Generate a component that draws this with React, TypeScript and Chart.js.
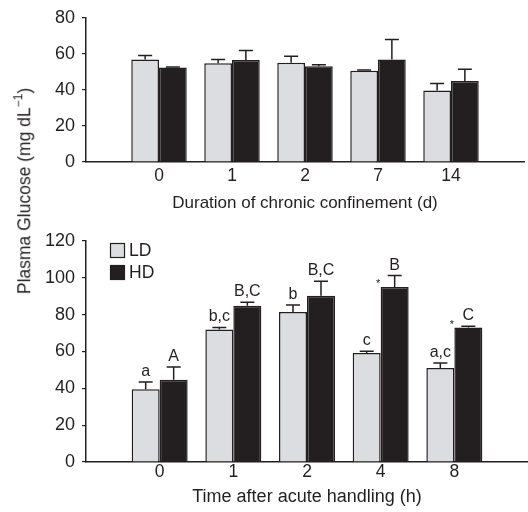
import React, { useEffect, useRef } from 'react';
import { Chart, registerables } from 'chart.js';

Chart.register(...registerables);

const FONT = '"Liberation Sans", Arial, Helvetica, sans-serif';
const INK = '#231f20';
const LD_FILL = '#dcdde0';

const seriesNames = ['LD', 'HD'];

// Top panel: chronic confinement
const topCategories = ['0', '1', '2', '7', '14'];
const topLD = [56.9, 54.8, 55.1, 50.6, 39.6];
const topLDErr = [2.2, 2.1, 3.6, 0.5, 4.0];
const topHD = [52.4, 56.6, 53.1, 56.9, 45.0];
const topHDErr = [0.3, 5.2, 0.8, 11.0, 6.5];
const topTitle = 'Duration of chronic confinement (d)';

// Bottom panel: acute handling
const bottomCategories = ['0', '1', '2', '4', '8'];
const bottomLD = [39.5, 71.9, 81.4, 59.2, 51.0];
const bottomLDErr = [3.9, 1.1, 3.8, 0.9, 2.7];
const bottomHD = [44.7, 84.9, 90.3, 95.0, 73.0];
const bottomHDErr = [6.9, 1.8, 7.8, 6.2, 0.7];
const bottomLDLetters = ['a', 'b,c', 'b', 'c', 'a,c'];
const bottomHDLetters = ['A', 'B,C', 'B,C', 'B', 'C'];
const bottomHDStars = [false, false, false, true, true];
const bottomTitle = 'Time after acute handling (h)';

const yTitle = 'Plasma Glucose (mg dL';

const pad = (arr: any[]) => [null, ...arr, null];

const errorBarPlugin = {
  id: 'errorBars',
  afterDatasetsDraw(chart: any) {
    const ctx = chart.ctx;
    const ys = chart.scales.y;
    chart.data.datasets.forEach((ds: any, di: number) => {
      const meta = chart.getDatasetMeta(di);
      meta.data.forEach((bar: any, i: number) => {
        const v = ds.data[i];
        const e = ds.errors ? ds.errors[i] : null;
        if (v == null || e == null) return;
        const x = bar.x;
        const yBar = ys.getPixelForValue(v);
        const yTop = ys.getPixelForValue(v + e);
        ctx.save();
        ctx.strokeStyle = INK;
        ctx.lineWidth = 1.5;
        ctx.beginPath();
        ctx.moveTo(x, yBar);
        ctx.lineTo(x, yTop);
        ctx.moveTo(x - 7, yTop);
        ctx.lineTo(x + 7, yTop);
        ctx.stroke();
        ctx.fillStyle = INK;
        const letter = ds.letters ? ds.letters[i] : null;
        if (letter) {
          ctx.font = `16px ${FONT}`;
          ctx.textAlign = 'center';
          ctx.textBaseline = 'middle';
          ctx.fillText(letter, x, yTop - 10.5);
        }
        if (ds.stars && ds.stars[i]) {
          ctx.font = `11px ${FONT}`;
          ctx.textAlign = 'center';
          ctx.textBaseline = 'alphabetic';
          ctx.fillText('*', x - bar.width / 2 - 2.5, yBar - 6 + 6.4);
        }
        ctx.restore();
      });
    });
  },
};

const legendPlugin = {
  id: 'boxLegend',
  afterDraw(chart: any) {
    const ctx = chart.ctx;
    const left = chart.chartArea.left + 24;
    const top = chart.chartArea.top + 2;
    chart.data.datasets.forEach((ds: any, i: number) => {
      const y = top + i * 22;
      ctx.save();
      ctx.fillStyle = ds.backgroundColor;
      ctx.fillRect(left, y, 15, 15);
      ctx.strokeStyle = INK;
      ctx.lineWidth = 1.2;
      ctx.strokeRect(left + 0.5, y + 0.5, 14, 14);
      ctx.fillStyle = INK;
      ctx.font = `17.5px ${FONT}`;
      ctx.textAlign = 'left';
      ctx.textBaseline = 'middle';
      ctx.fillText(ds.label, left + 19, y + 8);
      ctx.restore();
    });
  },
};

function makeConfig(p: any): any {
  return {
    type: 'bar',
    data: {
      labels: ['', ...p.categories, ''],
      datasets: [
        {
          label: seriesNames[0],
          data: pad(p.ld),
          errors: pad(p.ldErr),
          letters: p.ldLetters ? pad(p.ldLetters) : null,
          backgroundColor: LD_FILL,
          borderColor: INK,
          borderWidth: 1.5,
          categoryPercentage: 0.76,
          barPercentage: 1,
        },
        {
          label: seriesNames[1],
          data: pad(p.hd),
          errors: pad(p.hdErr),
          letters: p.hdLetters ? pad(p.hdLetters) : null,
          stars: p.hdStars ? pad(p.hdStars) : null,
          backgroundColor: INK,
          borderColor: INK,
          borderWidth: 1.5,
          categoryPercentage: 0.76,
          barPercentage: 1,
        },
      ],
    },
    options: {
      responsive: false,
      animation: false,
      layout: { padding: { top: p.padTop, left: 0, right: 0, bottom: 0 } },
      plugins: { legend: { display: false }, tooltip: { enabled: false } },
      scales: {
        x: {
          offset: false,
          grid: { display: false, drawTicks: false },
          border: { display: true, color: INK, width: 1.5 },
          ticks: { color: INK, font: { family: FONT, size: 17.5 }, padding: p.xTickPad, maxRotation: 0, autoSkip: false },
          title: {
            display: true,
            text: p.title,
            color: INK,
            font: { family: FONT, size: p.titleSize },
            padding: { top: 0, bottom: p.titlePadBottom },
          },
          afterFit: (s: any) => { s.height = p.xHeight; },
        },
        y: {
          min: 0,
          max: p.yMax,
          grid: { drawOnChartArea: false, drawTicks: true, tickLength: 4, color: INK, lineWidth: 1.2 },
          border: { display: true, color: INK, width: 1.5 },
          ticks: {
            stepSize: 10,
            color: INK,
            padding: 7,
            font: { family: FONT, size: 18 },
            callback: (v: any) => (v % 20 === 0 ? String(v) : ''),
          },
          afterFit: (s: any) => { s.width = 86; },
        },
      },
    },
    plugins: p.plugins,
  };
}

function ChartCanvas({ config, width, height, top }: any) {
  const ref = useRef<HTMLCanvasElement | null>(null);
  useEffect(() => {
    if (!ref.current) return;
    const chart = new Chart(ref.current, config);
    return () => chart.destroy();
  }, []);
  return (
    <canvas
      ref={ref}
      width={width}
      height={height}
      style={{ position: 'absolute', left: 0, top, width, height, display: 'block' }}
    />
  );
}

export default function App() {
  const topConfig = makeConfig({
    categories: topCategories,
    ld: topLD,
    ldErr: topLDErr,
    hd: topHD,
    hdErr: topHDErr,
    yMax: 80,
    padTop: 14,
    xHeight: 58,
    xTickPad: 4,
    title: topTitle,
    titleSize: 17,
    titlePadBottom: 6,
    plugins: [errorBarPlugin],
  });
  const bottomConfig = makeConfig({
    categories: bottomCategories,
    ld: bottomLD,
    ldErr: bottomLDErr,
    hd: bottomHD,
    hdErr: bottomHDErr,
    ldLetters: bottomLDLetters,
    hdLetters: bottomHDLetters,
    hdStars: bottomHDStars,
    yMax: 120,
    padTop: 21,
    xHeight: 50,
    xTickPad: 0,
    title: bottomTitle,
    titleSize: 18,
    titlePadBottom: 4,
    plugins: [errorBarPlugin, legendPlugin],
  });
  return (
    <div style={{ position: 'absolute', left: 0, top: 0, width: 528, height: 512, background: '#fff', overflow: 'hidden' }}>
      <ChartCanvas config={topConfig} width={528} height={220} top={0} />
      <ChartCanvas config={bottomConfig} width={528} height={292} top={220} />
      <div
        style={{
          position: 'absolute',
          left: 25,
          top: 191,
          transform: 'translate(-50%, -50%) rotate(-90deg)',
          whiteSpace: 'nowrap',
          fontFamily: FONT,
          fontSize: 17.5,
          color: INK,
          lineHeight: 1,
        }}
      >
        {yTitle}
        <sup style={{ fontSize: 12, verticalAlign: '0.7em', lineHeight: 0 }}>{'\u22121'}</sup>
        {')'}
      </div>
    </div>
  );
}
